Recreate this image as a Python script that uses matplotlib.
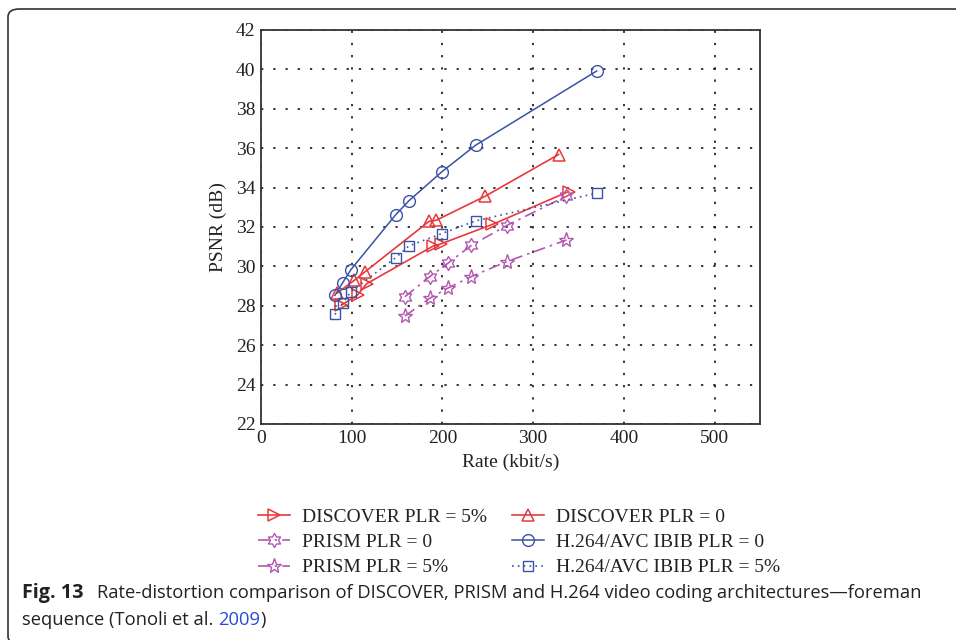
import numpy as np
import matplotlib
matplotlib.use('Agg')
import matplotlib.pyplot as plt
from matplotlib.path import Path
from matplotlib.patches import FancyBboxPatch

# rate (kbit/s) / PSNR (dB)
disc5_rate = [88.5, 106.5, 116.4, 190, 198, 255, 339]
disc5_psnr = [28.03, 28.55, 29.12, 31.04, 31.14, 32.13, 33.8]
disc0_rate = [84, 103, 114.5, 185, 193, 247, 328]
disc0_psnr = [28.65, 29.3, 29.72, 32.28, 32.34, 33.56, 35.68]
prism0_rate = [158.6, 186, 206, 232, 270.6, 336.7]
prism0_psnr = [28.46, 29.48, 30.16, 31.07, 32.07, 33.57]
prism5_rate = [158.6, 186, 205.6, 231.6, 270.6, 336.7]
prism5_psnr = [27.48, 28.38, 28.89, 29.48, 30.24, 31.34]
h264_rate = [81.5, 90, 99, 148.4, 163, 199, 236.5, 370]
h264_0_psnr = [28.53, 29.17, 29.83, 32.62, 33.33, 34.79, 36.15, 39.92]
h264_5_psnr = [27.56, 28.12, 28.72, 30.44, 31.04, 31.66, 32.31, 33.72]

xticks = [0, 100, 200, 300, 400, 500]
yticks = list(range(22, 43, 2))

RED = '#e8383a'
BLUE = '#3a52a6'
PURP = '#b257b0'

# six pointed star marker
ang = np.linspace(0, 2 * np.pi, 13)[:-1] + np.pi / 2
rad = np.where(np.arange(12) % 2 == 0, 1.0, 0.58)
hexv = np.column_stack([rad * np.cos(ang), rad * np.sin(ang)])
hexv = np.vstack([hexv, hexv[0]])
hexagram = Path(hexv, [Path.MOVETO] + [Path.LINETO] * 11 + [Path.CLOSEPOLY])

serif = ['Liberation Serif', 'DejaVu Serif']
dashdot = (0, (7, 3, 1.5, 3))

W, H = 956, 640
fig = plt.figure(figsize=(W / 100, H / 100), dpi=100)
ax = fig.add_axes([261 / W, 1 - 424 / H, (760 - 261) / W, (424 - 30) / H])

l_d5, = ax.plot(disc5_rate, disc5_psnr, '-', color=RED, lw=1.2, marker='>', ms=9, mfc='none',
                mew=1.1, label='DISCOVER PLR = 5%')
l_d0, = ax.plot(disc0_rate, disc0_psnr, '-', color=RED, lw=1.2, marker='^', ms=9, mfc='none',
                mew=1.1, label='DISCOVER PLR = 0')
l_p0, = ax.plot(prism0_rate, prism0_psnr, color=PURP, lw=1.2, ls=dashdot, marker=hexagram,
                ms=10, mfc='none', mew=1.0, label='PRISM PLR = 0')
l_h0, = ax.plot(h264_rate, h264_0_psnr, '-', color=BLUE, lw=1.1, marker='o', ms=8.5, mfc='none',
                mew=1.0, label='H.264/AVC IBIB PLR = 0')
l_p5, = ax.plot(prism5_rate, prism5_psnr, color=PURP, lw=1.2, ls=dashdot, marker='*',
                ms=11, mfc='none', mew=1.0, label='PRISM PLR = 5%')
l_h5, = ax.plot(h264_rate, h264_5_psnr, color=BLUE, lw=1.2, ls=(0, (1, 2.5)), marker='s', ms=7,
                mfc='none', mew=1.0, label='H.264/AVC IBIB PLR = 5%')

ax.set_xlim(0, 550)
ax.set_ylim(22, 42)
ax.set_xticks(xticks)
ax.set_yticks(yticks)
ax.grid(True, color='black', lw=1.1, ls=(0, (1.5, 6.5)))
ax.tick_params(length=0, labelsize=14, pad=4)
for lab in ax.get_xticklabels() + ax.get_yticklabels():
    lab.set_family(serif)
    lab.set_color('#222222')
for s in ax.spines.values():
    s.set_color('#333333')
    s.set_linewidth(1.3)

ax.set_xlabel('Rate (kbit/s)', family=serif, fontsize=14, color='#222222', labelpad=5)
ax.set_ylabel('PSNR (dB)', family=serif, fontsize=14, color='#222222', labelpad=6)

handles = [l_d5, l_p0, l_p5, l_d0, l_h0, l_h5]
leg = fig.legend(handles, [h.get_label() for h in handles], loc='upper left',
                 bbox_to_anchor=(258 / W, 1 - 508 / H), ncol=2, frameon=False,
                 prop={'family': serif, 'size': 14}, handlelength=1.65, handletextpad=0.6,
                 columnspacing=1.3, labelspacing=0.4, borderpad=0, borderaxespad=0)
for t in leg.get_texts():
    t.set_color('#222222')

# caption
cap_font = ['Open Sans', 'DejaVu Sans']
cs = 13.2
fig.text(22 / W, 1 - 593 / H, 'Fig. 13', family=cap_font, weight='bold', fontsize=14.2,
         va='center', color='#222222')
fig.text(97 / W, 1 - 593 / H,
         'Rate-distortion comparison of DISCOVER, PRISM and H.264 video coding architectures\u2014foreman',
         family=cap_font, fontsize=cs, va='center', color='#222222')
t1 = fig.text(22 / W, 1 - 620 / H, 'sequence (Tonoli et al. ', family=cap_font, fontsize=cs,
              va='center', color='#222222')
fig.canvas.draw()
bb = t1.get_window_extent()
t2 = fig.text(bb.x1 / W, 1 - 620 / H, '2009', family=cap_font, fontsize=cs, va='center',
              color='#2a4bd7')
fig.canvas.draw()
bb2 = t2.get_window_extent()
fig.text(bb2.x1 / W, 1 - 620 / H, ')', family=cap_font, fontsize=cs, va='center',
         color='#222222')

# rounded frame around the figure
frame = FancyBboxPatch((8 / W, -4 / H), 1.2, 1 - 9 / H + 4 / H,
                       boxstyle='round,pad=0,rounding_size=0.012', transform=fig.transFigure,
                       fill=False, ec='#333333', lw=1.2, clip_on=False)
fig.patches.append(frame)

fig.savefig('out.png', dpi=100)
